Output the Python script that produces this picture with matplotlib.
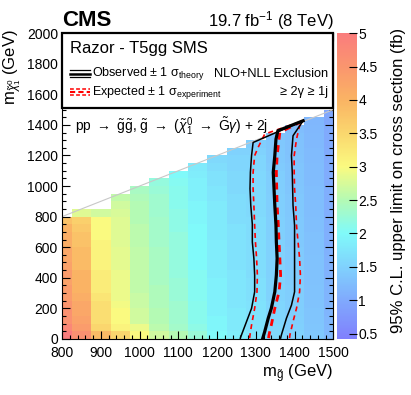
import matplotlib
matplotlib.use("Agg")
import matplotlib.pyplot as plt
import numpy as np
from matplotlib.colors import LinearSegmentedColormap
from matplotlib.patches import Rectangle
from matplotlib.ticker import MultipleLocator

plt.rcParams['font.family'] = ['Liberation Sans', 'DejaVu Sans']
plt.rcParams['mathtext.fontset'] = 'custom'
plt.rcParams['mathtext.rm'] = 'Liberation Sans'
plt.rcParams['mathtext.it'] = 'Liberation Sans:italic'
plt.rcParams['mathtext.bf'] = 'Liberation Sans:bold'

# gluino mass columns, neutralino bins of 50 GeV starting at 0
m_gluino = [800, 850, 900, 950, 1000, 1050, 1100, 1150, 1200, 1250, 1300, 1350, 1400, 1450, 1500]

# 95% CL upper limit (fb) per column, from the lowest neutralino bin upwards
lim_800 = [5.0, 4.8, 4.6, 4.6, 4.5, 4.4, 4.4, 4.3, 4.4, 4.3, 4.2, 4.2, 4.1, 4.1, 4.0, 3.8]
lim_850 = [4.6, 4.4, 4.3, 4.2, 4.2, 4.1, 4.0, 4.0, 4.0, 3.9, 3.9, 3.9, 3.8, 3.8, 3.7, 3.6, 2.8]
lim_900 = [3.9, 3.5, 3.4, 3.4, 3.4, 3.3, 3.2, 3.2, 3.2, 3.1, 3.1, 3.1, 3.1, 3.0, 3.0, 3.0, 2.7]
lim_950 = [3.5, 3.1, 3.0, 3.0, 2.95, 2.9, 2.9, 2.9, 2.9, 2.85, 2.85, 2.85, 2.8, 2.8, 2.8, 2.8, 2.75, 2.7, 2.6]
lim_1000 = [3.0, 2.9, 2.7, 2.7, 2.65, 2.65, 2.6, 2.6, 2.6, 2.6, 2.6, 2.6, 2.55, 2.55, 2.55, 2.5, 2.5, 2.5,
            2.45, 2.4]
lim_1050 = [2.7, 2.55, 2.5, 2.5, 2.45, 2.45, 2.45, 2.4, 2.4, 2.4, 2.4, 2.4, 2.35, 2.35, 2.35, 2.35, 2.3, 2.3,
            2.3, 2.25, 2.2]
lim_1100 = [2.5, 2.35, 2.3, 2.3, 2.3, 2.25, 2.25, 2.25, 2.2, 2.2, 2.2, 2.2, 2.2, 2.2, 2.15, 2.15, 2.15, 2.1,
            2.1, 2.1, 2.05, 2.0]
lim_1150 = [2.25, 2.15, 2.1, 2.1, 2.1, 2.05, 2.05, 2.05, 2.05, 2.0, 2.0, 2.0, 2.0, 2.0, 2.0, 1.95, 1.95, 1.95,
            1.9, 1.9, 1.9, 1.85, 1.8]
lim_1200 = [2.0, 1.95, 1.95, 1.9, 1.9, 1.9, 1.9, 1.9, 1.85, 1.85, 1.85, 1.85, 1.85, 1.8, 1.8, 1.8, 1.8, 1.8,
            1.75, 1.75, 1.7, 1.7, 1.65, 1.6]
lim_1250 = [1.85, 1.8, 1.8, 1.8, 1.75, 1.75, 1.75, 1.75, 1.75, 1.7, 1.7, 1.7, 1.7, 1.7, 1.7, 1.65, 1.65, 1.65,
            1.65, 1.6, 1.6, 1.6, 1.55, 1.55, 1.5]
lim_1300 = [1.75, 1.7, 1.7, 1.7, 1.7, 1.68, 1.68, 1.68, 1.65, 1.65, 1.65, 1.65, 1.65, 1.62, 1.62, 1.62, 1.6,
            1.6, 1.6, 1.6, 1.58, 1.58, 1.55, 1.55, 1.5, 1.45]
lim_1350 = [1.6, 1.58, 1.55, 1.55, 1.55, 1.52, 1.52, 1.52, 1.5, 1.5, 1.5, 1.5, 1.5, 1.48, 1.48, 1.48, 1.46,
            1.46, 1.46, 1.45, 1.45, 1.44, 1.42, 1.4, 1.4, 1.38, 1.35]
lim_1400 = [1.5, 1.48, 1.46, 1.45, 1.45, 1.44, 1.44, 1.43, 1.42, 1.42, 1.42, 1.41, 1.4, 1.4, 1.4, 1.39, 1.38,
            1.38, 1.37, 1.36, 1.35, 1.35, 1.34, 1.32, 1.3, 1.3, 1.28, 1.25]
lim_1450 = [1.38, 1.36, 1.35, 1.34, 1.33, 1.32, 1.32, 1.31, 1.3, 1.3, 1.3, 1.29, 1.28, 1.28, 1.27, 1.27, 1.26,
            1.26, 1.25, 1.25, 1.24, 1.24, 1.23, 1.22, 1.21, 1.2, 1.2, 1.18, 1.16]
lim_1500 = [1.2, 1.18, 1.16, 1.15, 1.14, 1.13, 1.12, 1.12, 1.11, 1.1, 1.1, 1.09, 1.08, 1.08, 1.07, 1.07, 1.06,
            1.06, 1.05, 1.05, 1.04, 1.04, 1.03, 1.02, 1.02, 1.01, 1.0, 1.0, 0.98, 0.96]
limits = [lim_800, lim_850, lim_900, lim_950, lim_1000, lim_1050, lim_1100, lim_1150, lim_1200,
          lim_1250, lim_1300, lim_1350, lim_1400, lim_1450, lim_1500]

# exclusion contours (m_gluino, m_neutralino)
obs_mg = [1318, 1323, 1332, 1340, 1349, 1353, 1355, 1353, 1352, 1349, 1347, 1345, 1349, 1352, 1357, 1422]
obs_mn = [5, 48, 135, 200, 308, 417, 526, 634, 743, 873, 982, 1090, 1199, 1307, 1362, 1427]
obs_lo_mg = [1260, 1263, 1276, 1289, 1297, 1297, 1295, 1291, 1291, 1287, 1285, 1286, 1289, 1293, 1422]
obs_lo_mn = [5, 26, 113, 200, 308, 417, 526, 634, 750, 873, 982, 1090, 1199, 1285, 1427]
obs_hi_mg = [1364, 1366, 1379, 1392, 1400, 1400, 1400, 1400, 1400, 1396, 1395, 1394, 1392, 1396, 1422]
obs_hi_mn = [5, 26, 135, 221, 308, 417, 526, 634, 743, 873, 982, 1090, 1199, 1329, 1427]
exp_mg = [1333, 1334, 1340, 1349, 1360, 1364, 1362, 1360, 1358, 1355, 1354, 1353, 1355, 1362, 1422]
exp_mn = [5, 26, 91, 200, 308, 417, 526, 634, 750, 873, 982, 1090, 1199, 1351, 1427]
exp_lo_mg = [1284, 1285, 1289, 1297, 1303, 1304, 1302, 1299, 1297, 1295, 1293, 1293, 1297, 1306, 1323, 1422]
exp_lo_mn = [5, 26, 91, 200, 308, 417, 526, 634, 743, 873, 982, 1090, 1199, 1253, 1340, 1427]
exp_hi_mg = [1387, 1388, 1396, 1405, 1413, 1415, 1413, 1409, 1405, 1403, 1400, 1399, 1399, 1405, 1413, 1422]
exp_hi_mn = [5, 26, 113, 200, 308, 417, 526, 634, 743, 873, 982, 1090, 1199, 1307, 1394, 1427]

# colour palette
pal_vals = [0.42, 1.0, 1.5, 2.0, 2.5, 3.0, 3.5, 4.0, 4.5, 5.0]
pal_cols = ['#8080fd', '#80aafd', '#80d2fd', '#80fafa', '#b4fab4', '#fafa80',
            '#fad76e', '#fab464', '#fa966e', '#fa7d7d']
zmin, zmax = 0.42, 5.0
cmap = LinearSegmentedColormap.from_list(
    'razor', [((v - zmin) / (zmax - zmin), c) for v, c in zip(pal_vals, pal_cols)])

# fill the 2d grid
nrow = max(len(c) for c in limits)
z = np.full((nrow, len(m_gluino)), np.nan)
for j, col in enumerate(limits):
    z[:len(col), j] = col
z = np.ma.masked_invalid(z)
x_edges = np.append(np.array(m_gluino) - 25, m_gluino[-1] + 25)
y_edges = np.arange(0, 50 * nrow + 1, 50)

fig = plt.figure(figsize=(4.11, 3.95), dpi=100)
ax = fig.add_axes([0.151, 0.142, 0.66, 0.774])
cax = fig.add_axes([0.820, 0.142, 0.0487, 0.774])

mesh = ax.pcolormesh(x_edges, y_edges, z, cmap=cmap, vmin=zmin, vmax=zmax, zorder=1,
                     edgecolors='none', antialiased=False, linewidth=0)
ax.plot([800, 1500], [800, 1500], color='#c8c8c8', lw=0.8, zorder=2)

ax.plot(obs_lo_mg, obs_lo_mn, color='black', lw=1.1, zorder=4)
ax.plot(obs_hi_mg, obs_hi_mn, color='black', lw=1.1, zorder=4)
ax.plot(exp_lo_mg, exp_lo_mn, color='red', lw=1.2, ls=(0, (3, 2.5)), zorder=3)
ax.plot(exp_hi_mg, exp_hi_mn, color='red', lw=1.2, ls=(0, (3, 2.5)), zorder=3)
ax.plot(exp_mg, exp_mn, color='red', lw=2.0, ls=(0, (2.5, 2)), zorder=3)
ax.plot(obs_mg, obs_mn, color='black', lw=2.3, zorder=4)

ax.set_xlim(800, 1500)
ax.set_ylim(0, 2000)
ax.xaxis.set_major_locator(MultipleLocator(100))
ax.xaxis.set_minor_locator(MultipleLocator(20))
ax.yaxis.set_major_locator(MultipleLocator(200))
ax.yaxis.set_minor_locator(MultipleLocator(50))
ax.tick_params(which='both', direction='in', top=True, right=True, labelsize=10, width=0.8)
ax.tick_params(which='major', length=6)
ax.tick_params(which='minor', length=3)
ax.tick_params(axis='x', pad=5)
ax.tick_params(axis='y', pad=3)
for s in ax.spines.values():
    s.set_linewidth(0.8)

# legend box on top of the plot
box = Rectangle((800, 1510), 700, 490, facecolor='white', edgecolor='black', lw=1.6,
                zorder=5, clip_on=False)
ax.add_patch(box)
ax.text(0.029, 0.935, 'Razor - T5gg SMS', transform=ax.transAxes, fontsize=12, zorder=6)
for yy, lw in [(0.879, 0.9), (0.868, 1.8), (0.857, 0.9)]:
    ax.plot([0.03, 0.103], [yy, yy], transform=ax.transAxes, color='black', lw=lw, zorder=6,
            clip_on=False)
for yy, lw in [(0.818, 1.1), (0.808, 1.5), (0.798, 1.1)]:
    ax.plot([0.03, 0.103], [yy, yy], transform=ax.transAxes, color='red', lw=lw,
            ls=(0, (2.5, 1.5)), zorder=6, clip_on=False)
ax.text(0.11, 0.868, 'Observed ± 1 σ$_{\\mathrm{theory}}$', transform=ax.transAxes,
        fontsize=9.0, va='center', zorder=6)
ax.text(0.98, 0.868, 'NLO+NLL Exclusion', transform=ax.transAxes, fontsize=9.2,
        va='center', ha='right', zorder=6)
ax.text(0.11, 0.807, 'Expected ± 1 σ$_{\\mathrm{experiment}}$', transform=ax.transAxes,
        fontsize=9.0, va='center', zorder=6)
ax.text(0.98, 0.807, '≥ 2γ ≥ 1j', transform=ax.transAxes, fontsize=9.2,
        va='center', ha='right', zorder=6)
ax.text(0.048, 0.696,
        r'pp $\rightarrow$ $\tilde{\mathrm{g}}\tilde{\mathrm{g}}$, $\tilde{\mathrm{g}}$ $\rightarrow$ '
        r'($\tilde{\chi}^{0}_{1}$ $\rightarrow$ $\tilde{\mathrm{G}}\gamma$) + 2j',
        transform=ax.transAxes, fontsize=10, va='center', zorder=6)

cb = fig.colorbar(mesh, cax=cax)
cb.outline.set_visible(False)
cb.set_ticks([0.5, 1, 1.5, 2, 2.5, 3, 3.5, 4, 4.5, 5])
cb.set_ticklabels(['0.5', '1', '1.5', '2', '2.5', '3', '3.5', '4', '4.5', '5'])
cax.tick_params(direction='in', length=6, width=0.8, labelsize=10, pad=1)

fig.text(0.151, 0.934, 'CMS', fontsize=16, fontweight='bold', va='baseline')
fig.text(0.811, 0.934, r'19.7 fb$^{-1}$ (8 TeV)', fontsize=12, ha='right', va='baseline')
fig.text(0.811, 0.046, r'm$_{\tilde{\mathrm{g}}}$ (GeV)', fontsize=12, ha='right', va='baseline')
fig.text(0.03, 0.925, r'm$_{\tilde{\chi}^{0}_{1}}$ (GeV)', fontsize=12, rotation=90,
         ha='center', va='top')
fig.text(0.969, 0.542, '95% C.L. upper limit on cross section (fb)', fontsize=12,
         rotation=90, ha='center', va='center')

fig.savefig('out.png', dpi=100)
